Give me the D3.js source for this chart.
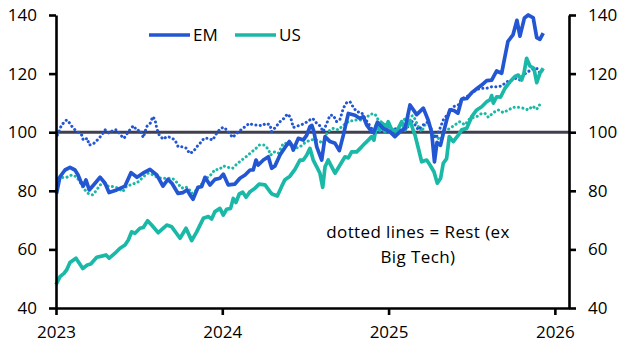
<!DOCTYPE html>
<html>
<head>
<meta charset="utf-8">
<script src="https://cdn.jsdelivr.net/npm/d3@7"></script>
<style>
  body { margin: 0; background: #fff; }
  text { font-family: "Open Sans", sans-serif; fill: #000; }
</style>
</head>
<body>
<script>
// time is in decimal years, values are index levels
var emTotal = [
  [2023.003,79],[2023.024,84.8],[2023.054,87.1],[2023.084,88],[2023.114,87.1],[2023.132,85.5],
  [2023.150,83],[2023.164,81.6],[2023.180,83.7],[2023.200,80.3],[2023.235,82.6],[2023.265,84.6],
  [2023.295,82.6],[2023.319,79.4],[2023.365,80.3],[2023.415,81.6],[2023.451,86.2],[2023.487,84.6],
  [2023.523,86],[2023.565,87.3],[2023.606,85.4],[2023.643,81.6],[2023.673,83.9],[2023.698,82.5],
  [2023.734,79.1],[2023.764,79.4],[2023.788,80.3],[2023.806,78.6],[2023.824,77.1],[2023.854,81.2],
  [2023.876,81.4],[2023.896,84.6],[2023.926,82],[2023.956,83.9],[2023.986,84.3],[2024.006,85.7],
  [2024.036,82],[2024.076,82.3],[2024.106,84.3],[2024.137,85.4],[2024.167,87.1],[2024.186,87.1],
  [2024.203,90.5],[2024.216,88.8],[2024.247,90.5],[2024.277,91.6],[2024.297,87.7],[2024.317,88.5],
  [2024.347,92.2],[2024.377,94.8],[2024.403,96.8],[2024.417,95.6],[2024.427,93.9],[2024.457,97.9],
  [2024.487,97.3],[2024.508,99],[2024.527,101.9],[2024.539,102.3],[2024.551,100.2],[2024.568,95],
  [2024.598,90.5],[2024.618,98.5],[2024.648,96.8],[2024.678,96.2],[2024.704,93.7],[2024.728,99],
  [2024.758,106.4],[2024.798,105.8],[2024.828,104.7],[2024.848,105.3],[2024.868,102.5],[2024.898,100.2],
  [2024.909,99.8],[2024.933,103.4],[2024.968,101.3],[2025.008,100.2],[2025.038,98.5],[2025.069,100.2],
  [2025.099,101.3],[2025.129,109.3],[2025.169,106],[2025.209,108.2],[2025.239,104],[2025.259,100],
  [2025.276,89.9],[2025.291,96.5],[2025.312,95.5],[2025.333,100.5],[2025.351,104.5],[2025.369,107.6],
  [2025.393,107.4],[2025.417,106.5],[2025.440,111.3],[2025.470,111.5],[2025.500,113.5],[2025.530,114.8],
  [2025.560,116.1],[2025.590,117.6],[2025.620,117.8],[2025.650,120.9],[2025.680,120.1],[2025.697,125],
  [2025.718,131],[2025.748,133.2],[2025.772,138.2],[2025.790,132.8],[2025.817,139],[2025.840,140],
  [2025.870,139],[2025.891,132.3],[2025.910,131.7],[2025.930,133.8]
];

var usTotal = [
  [2023.000,48],[2023.024,50.7],[2023.048,51.8],[2023.064,53],[2023.084,55.5],[2023.120,57],
  [2023.161,53.5],[2023.188,54.7],[2023.209,55],[2023.245,57.3],[2023.275,57.7],[2023.301,58.1],
  [2023.320,57],[2023.355,58.7],[2023.385,60.4],[2023.415,61.5],[2023.435,63.2],[2023.455,66],
  [2023.475,65.5],[2023.505,67.2],[2023.525,67.5],[2023.551,69.8],[2023.575,68.3],[2023.615,65.7],
  [2023.666,68.3],[2023.696,67.7],[2023.746,63.8],[2023.782,67.2],[2023.816,63],[2023.846,66],
  [2023.886,70.6],[2023.916,71.2],[2023.936,70.4],[2023.956,72.9],[2023.986,74],[2024.006,71.7],
  [2024.026,73.7],[2024.050,74],[2024.066,77.4],[2024.082,76],[2024.102,78.9],[2024.123,79.5],
  [2024.143,77.8],[2024.167,79.7],[2024.197,80.9],[2024.222,82.3],[2024.257,82],[2024.287,79.7],
  [2024.299,78.9],[2024.331,78.2],[2024.357,81.5],[2024.377,83.8],[2024.407,85],[2024.437,87.3],
  [2024.467,90.5],[2024.487,90.5],[2024.508,92.2],[2024.527,94.5],[2024.547,90.5],[2024.568,88.2],
  [2024.587,86],[2024.604,81.2],[2024.618,88.2],[2024.637,90.5],[2024.658,88.2],[2024.678,86],
  [2024.708,88.8],[2024.738,91.6],[2024.758,91.2],[2024.778,93.3],[2024.808,93.3],[2024.838,95],
  [2024.858,96.2],[2024.878,97.3],[2024.898,98.5],[2024.912,97.3],[2024.928,102.5],[2024.948,100.8],
  [2024.964,103],[2024.978,100.2],[2024.998,103.6],[2025.019,100.8],[2025.049,100.2],[2025.079,103.6],
  [2025.099,100.8],[2025.129,104],[2025.149,100.5],[2025.159,99],[2025.179,94.5],[2025.199,89.9],
  [2025.229,90.5],[2025.249,88.8],[2025.273,86.5],[2025.293,82.6],[2025.313,84.3],[2025.329,89.4],
  [2025.349,91],[2025.365,98.5],[2025.389,96.8],[2025.419,99],[2025.440,100.8],[2025.470,101.3],
  [2025.500,105.3],[2025.530,107.6],[2025.560,108.7],[2025.590,110.4],[2025.610,111],[2025.620,112.5],
  [2025.630,109.9],[2025.650,112.1],[2025.674,112],[2025.700,115],[2025.730,117.2],[2025.760,119],
  [2025.780,119.5],[2025.800,117.8],[2025.814,120.1],[2025.830,125.2],[2025.850,122.6],[2025.874,121.8],
  [2025.891,116.9],[2025.910,120.1],[2025.930,121.8]
];

// "Rest (ex Big Tech)" series, drawn dotted
var emRest = [
  [2023.008,99],[2023.034,102.5],[2023.064,104.2],[2023.084,103],[2023.104,101.3],[2023.128,100.2],
  [2023.155,99],[2023.164,97.3],[2023.188,97.9],[2023.200,95.6],[2023.224,96],[2023.248,97.3],
  [2023.275,99],[2023.295,100.8],[2023.320,99.6],[2023.345,100.8],[2023.365,100.8],[2023.389,99],
  [2023.409,97.9],[2023.435,100.2],[2023.465,102.2],[2023.489,100.5],[2023.505,100.8],[2023.525,98.2],
  [2023.545,101.9],[2023.569,103.2],[2023.581,105.3],[2023.595,104.4],[2023.606,101.3],[2023.621,99],
  [2023.645,97.6],[2023.666,98.5],[2023.690,98.2],[2023.716,97.3],[2023.735,95],[2023.762,95],
  [2023.786,94.5],[2023.802,92.8],[2023.826,93.3],[2023.846,95],[2023.866,96.2],[2023.890,97.9],
  [2023.916,97.9],[2023.942,97.3],[2023.966,99.6],[2023.990,101.3],[2024.010,101.7],[2024.036,100.2],
  [2024.062,98.2],[2024.087,99.6],[2024.106,100.5],[2024.137,101.9],[2024.162,103],[2024.186,102.5],
  [2024.210,102.5],[2024.237,102.2],[2024.263,103],[2024.287,102.5],[2024.297,100.2],[2024.323,101.9],
  [2024.347,103.6],[2024.371,104.7],[2024.391,106.2],[2024.411,105.1],[2024.427,101.6],[2024.457,102.2],
  [2024.497,103],[2024.517,103.9],[2024.544,104.7],[2024.568,103],[2024.587,102.2],[2024.607,100.2],
  [2024.628,103],[2024.648,105.8],[2024.667,105.8],[2024.688,103.6],[2024.708,104.4],[2024.728,108.2],
  [2024.748,110.1],[2024.768,110.4],[2024.788,108.5],[2024.808,107],[2024.838,106.7],[2024.858,104.7],
  [2024.878,103],[2024.898,101.3],[2024.918,100.5],[2024.938,100.2],[2024.968,100.2],[2024.989,101.3],
  [2025.008,100.8],[2025.028,101.3],[2025.058,100.8],[2025.088,101.3],[2025.118,101.9],[2025.135,104],
  [2025.159,102.5],[2025.179,100.8],[2025.209,102.5],[2025.239,103.6],[2025.259,100.8],[2025.285,97.9],
  [2025.309,101.3],[2025.329,104.2],[2025.359,106.4],[2025.389,108.7],[2025.419,109.3],[2025.446,111.6],
  [2025.470,112.1],[2025.500,113.3],[2025.530,114.6],[2025.560,115],[2025.590,115],[2025.620,115.5],
  [2025.650,115.5],[2025.680,115.8],[2025.710,117.2],[2025.740,117.8],[2025.766,118.4],[2025.790,117.8],
  [2025.810,119.5],[2025.840,120.7],[2025.866,121.5],[2025.891,121.8],[2025.910,120.1],[2025.930,121.5]
];

var usRest = [
  [2023.014,84.3],[2023.044,84.6],[2023.064,84.6],[2023.094,85.4],[2023.124,84.8],[2023.155,82],
  [2023.164,80.9],[2023.194,79.1],[2023.221,78.6],[2023.245,80.3],[2023.265,82],[2023.289,82.6],
  [2023.314,81.6],[2023.345,81.4],[2023.375,80.9],[2023.401,79.7],[2023.425,81.6],[2023.465,82.3],
  [2023.495,83.1],[2023.525,84.8],[2023.555,86],[2023.585,85.4],[2023.609,84.6],[2023.636,84.3],
  [2023.655,84.3],[2023.685,84.3],[2023.710,83.9],[2023.735,82.3],[2023.756,80.9],[2023.776,81.4],
  [2023.796,80.9],[2023.816,79.1],[2023.846,80.3],[2023.876,82.3],[2023.906,84.3],[2023.936,85.7],
  [2023.956,87.3],[2023.982,87.3],[2024.006,88.5],[2024.036,88],[2024.062,87.7],[2024.087,89.1],
  [2024.117,90.5],[2024.143,91.6],[2024.167,92.8],[2024.197,94.2],[2024.222,95.6],[2024.251,95.6],
  [2024.277,94.2],[2024.291,92.2],[2024.311,93.3],[2024.337,92.8],[2024.367,96.2],[2024.397,96.2],
  [2024.423,94.8],[2024.437,94.5],[2024.467,95],[2024.497,96.4],[2024.527,97.3],[2024.557,97.6],
  [2024.587,96.8],[2024.607,96.2],[2024.628,99.6],[2024.648,100.8],[2024.667,101.3],[2024.698,100.8],
  [2024.718,101.9],[2024.738,102.8],[2024.764,103.9],[2024.788,103.9],[2024.808,104.2],[2024.838,104.2],
  [2024.868,105.1],[2024.892,106.2],[2024.918,106.2],[2024.938,104.2],[2024.968,103],[2024.998,101.9],
  [2025.028,100.8],[2025.058,101.3],[2025.079,103],[2025.099,104.7],[2025.124,105.5],[2025.149,105.6],
  [2025.179,101.9],[2025.199,100.2],[2025.219,102.5],[2025.245,102.5],[2025.265,99],[2025.289,98.5],
  [2025.309,97.3],[2025.329,100.2],[2025.369,101.3],[2025.399,102.5],[2025.429,103.6],[2025.459,102.5],
  [2025.489,104.7],[2025.530,105.3],[2025.560,106.4],[2025.580,106.4],[2025.600,105.1],[2025.630,106.7],
  [2025.660,107.6],[2025.690,106.7],[2025.720,107.6],[2025.750,108.5],[2025.780,108.5],[2025.810,108.2],
  [2025.840,107.6],[2025.866,108.9],[2025.891,107.8],[2025.906,109.3],[2025.926,109.3]
];

var yTicks = [40, 60, 80, 100, 120, 140];
var xTicks = [2023, 2024, 2025, 2026];
var legendNames = ["EM", "US"];
var noteLines = ["dotted lines = Rest (ex", "Big Tech)"];

var emColor = "#2356d3",
    usColor = "#1ab9a7";

var width  = 628,
    height = 353;

var svg = d3.select("body").append("svg")
    .attr("width", width)
    .attr("height", height);

var x = d3.scaleLinear().domain([2023, 2026.085]).range([56, 569]);
var y = d3.scaleLinear().domain([40, 140]).range([308, 15]);

// reference line at 100
svg.append("line")
    .attr("x1", x.range()[0]).attr("x2", x.range()[1])
    .attr("y1", y(100)).attr("y2", y(100))
    .attr("stroke", "#404050")
    .attr("stroke-width", 3);

var line = d3.line()
    .x(function(d) { return x(d[0]); })
    .y(function(d) { return y(d[1]); });

function drawSeries(data, color, dotted) {
  var p = svg.append("path")
      .datum(data)
      .attr("d", line)
      .attr("fill", "none")
      .attr("stroke", color)
      .attr("stroke-linejoin", "round");
  if (dotted) {
    p.attr("stroke-width", 3)
     .attr("stroke-linecap", "round")
     .attr("stroke-dasharray", "0.1 4.3");
  } else {
    p.attr("stroke-width", 3.7);
  }
}

drawSeries(usRest, usColor, true);
drawSeries(emRest, emColor, true);
drawSeries(usTotal, usColor, false);
drawSeries(emTotal, emColor, false);

// axes
function styleAxis(g) {
  g.selectAll(".domain").attr("stroke", "#000").attr("stroke-width", 2.6);
  g.selectAll(".tick line").attr("stroke", "#000").attr("stroke-width", 2.6);
  g.selectAll("text").attr("font-size", 17).attr("font-family", "Open Sans, sans-serif");
}

svg.append("g")
    .attr("transform", "translate(" + x.range()[0] + ",0)")
    .call(d3.axisLeft(y).tickValues(yTicks).tickSize(7).tickSizeOuter(0).tickPadding(12))
    .call(styleAxis);

svg.append("g")
    .attr("transform", "translate(" + x.range()[1] + ",0)")
    .call(d3.axisRight(y).tickValues(yTicks).tickSize(7).tickSizeOuter(0).tickPadding(12))
    .call(styleAxis);

svg.append("g")
    .attr("transform", "translate(0," + y.range()[0] + ")")
    .call(d3.axisBottom(x).tickValues(xTicks).tickFormat(d3.format("d"))
          .tickSize(7).tickSizeOuter(0).tickPadding(11))
    .call(styleAxis);

// legend
var legend = svg.append("g").attr("transform", "translate(149,35)");
var colors = [emColor, usColor];
legendNames.forEach(function(name, i) {
  var g = legend.append("g").attr("transform", "translate(" + (i * 86) + ",0)");
  g.append("line").attr("x1", 0).attr("x2", 41)
      .attr("stroke", colors[i]).attr("stroke-width", 3.7);
  g.append("text").attr("x", 44).attr("dy", "0.35em")
      .attr("font-size", 17).text(name);
});

// note
svg.selectAll(".note")
    .data(noteLines)
  .enter().append("text")
    .attr("class", "note")
    .attr("x", 418)
    .attr("y", function(d, i) { return 232 + i * 25.5; })
    .attr("dy", "0.35em")
    .attr("text-anchor", "middle")
    .attr("font-size", 17)
    .attr("letter-spacing", 0.4)
    .text(function(d) { return d; });
</script>
</body>
</html>
